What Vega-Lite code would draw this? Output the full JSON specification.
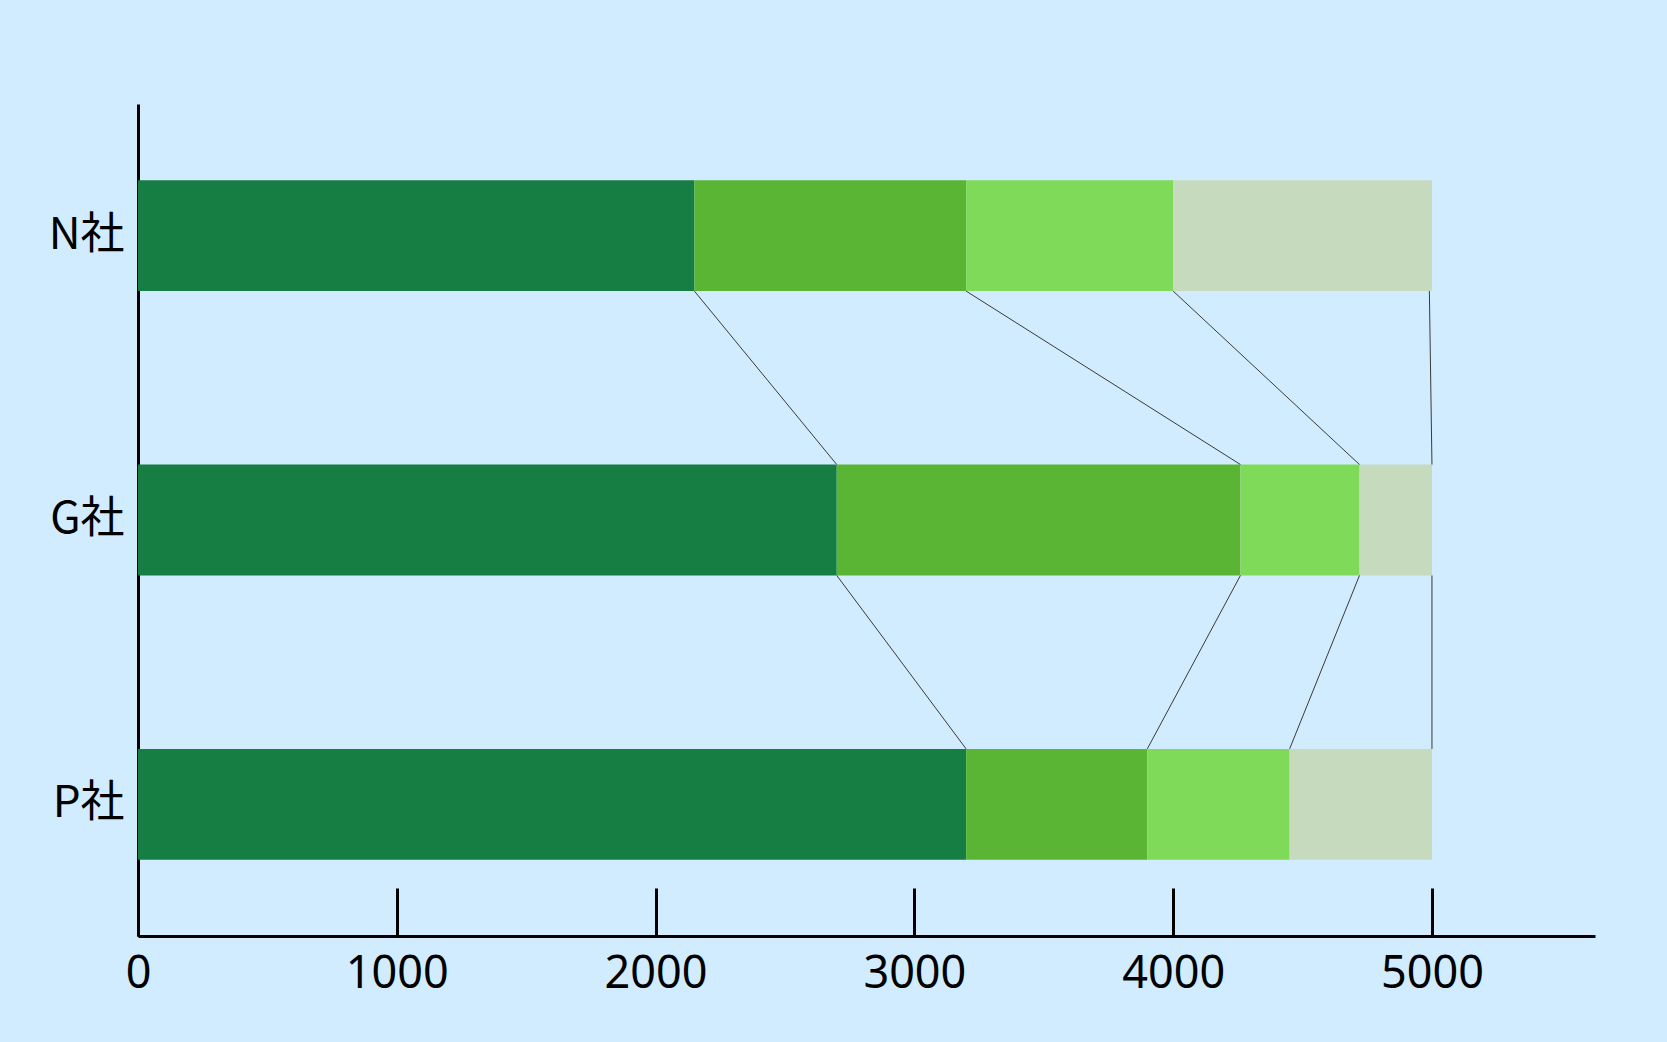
{
  "$schema": "https://vega.github.io/schema/vega-lite/v6.json",
  "autosize": {"type": "none"},
  "width": 1457,
  "height": 832,
  "padding": {"left": 138, "top": 104, "right": 72, "bottom": 106},
  "background": "#D0ECFE",
  "config": {
    "view": {"stroke": null},
    "font": "Noto Sans CJK JP"
  },
  "datasets": {
    "bars": [
      {"company": "N社", "part": "1", "order": 1, "value": 2150},
      {"company": "N社", "part": "2", "order": 2, "value": 1050},
      {"company": "N社", "part": "3", "order": 3, "value": 800},
      {"company": "N社", "part": "4", "order": 4, "value": 1000},
      {"company": "G社", "part": "1", "order": 1, "value": 2700},
      {"company": "G社", "part": "2", "order": 2, "value": 1560},
      {"company": "G社", "part": "3", "order": 3, "value": 460},
      {"company": "G社", "part": "4", "order": 4, "value": 280},
      {"company": "P社", "part": "1", "order": 1, "value": 3200},
      {"company": "P社", "part": "2", "order": 2, "value": 700},
      {"company": "P社", "part": "3", "order": 3, "value": 550},
      {"company": "P社", "part": "4", "order": 4, "value": 550}
    ],
    "links": [
      {"from": "N社", "to": "G社", "x_from": 2150, "x_to": 2700},
      {"from": "N社", "to": "G社", "x_from": 3200, "x_to": 4260},
      {"from": "N社", "to": "G社", "x_from": 4000, "x_to": 4720},
      {"from": "N社", "to": "G社", "x_from": 4990, "x_to": 5000},
      {"from": "G社", "to": "P社", "x_from": 2700, "x_to": 3200},
      {"from": "G社", "to": "P社", "x_from": 4260, "x_to": 3900},
      {"from": "G社", "to": "P社", "x_from": 4720, "x_to": 4450},
      {"from": "G社", "to": "P社", "x_from": 5000, "x_to": 5000}
    ]
  },
  "layer": [
    {
      "data": {"name": "bars"},
      "mark": {"type": "bar", "stroke": null},
      "encoding": {
        "y": {
          "field": "company",
          "type": "nominal",
          "scale": {"domain": ["N社", "G社", "P社"], "paddingInner": 0.61, "paddingOuter": 0.268},
          "axis": {
            "title": null,
            "domainColor": "#000000",
            "domainWidth": 3,
            "ticks": false,
            "labelFontSize": 44,
            "labelColor": "#000000",
            "labelPadding": 14
          }
        },
        "x": {
          "field": "value",
          "type": "quantitative",
          "aggregate": "sum",
          "stack": "zero",
          "scale": {"domain": [0, 5630], "nice": false},
          "axis": {
            "title": null,
            "values": [0, 1000, 2000, 3000, 4000, 5000],
            "format": "d",
            "grid": false,
            "domainColor": "#000000",
            "domainWidth": 3,
            "tickColor": "#000000",
            "tickWidth": 3,
            "tickSize": -48,
            "labelFlush": false,
            "labelFont": "Noto Sans",
            "labelFontSize": 45,
            "labelColor": "#000000",
            "labelPadding": 63
          }
        },
        "color": {
          "field": "part",
          "type": "nominal",
          "scale": {
            "domain": ["1", "2", "3", "4"],
            "range": ["#177E43", "#5AB535", "#7FDA59", "#C6DABD"]
          },
          "legend": null
        },
        "order": {"field": "order", "type": "quantitative"}
      }
    },
    {
      "data": {"name": "links"},
      "mark": {"type": "rule", "color": "#3A3A3A", "strokeWidth": 1},
      "encoding": {
        "y": {"field": "from", "type": "nominal", "bandPosition": 1},
        "y2": {"field": "to", "bandPosition": 0},
        "x": {"field": "x_from", "type": "quantitative"},
        "x2": {"field": "x_to"}
      }
    }
  ]
}
